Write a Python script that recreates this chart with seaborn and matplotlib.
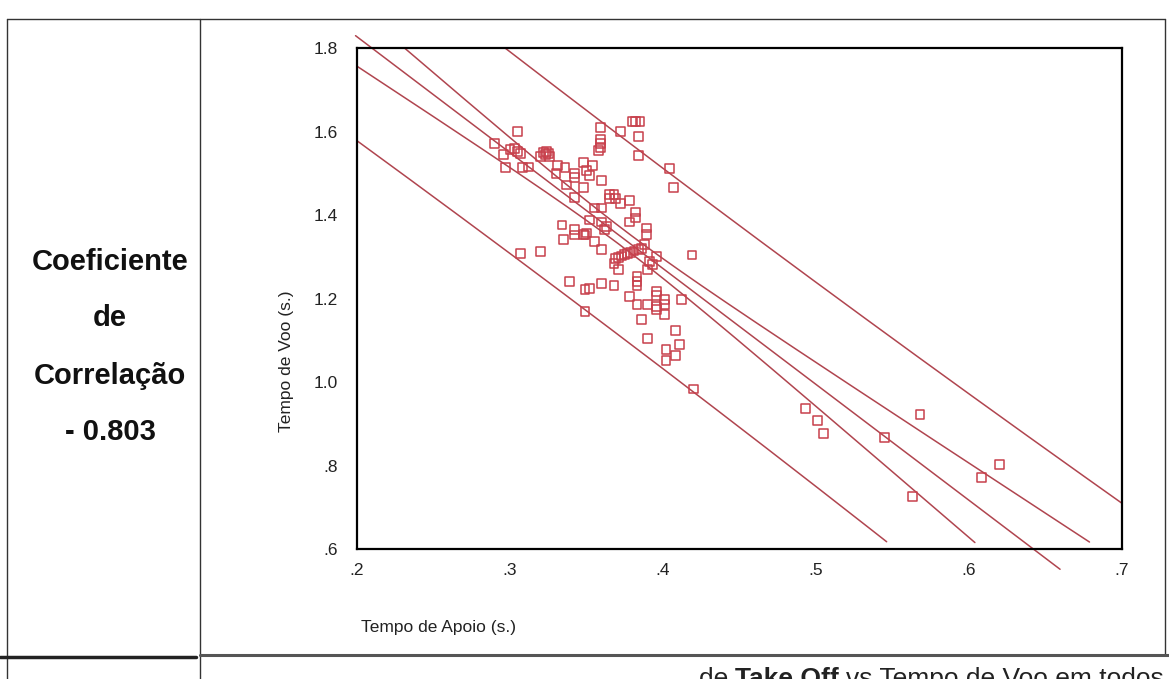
import numpy as np
import pandas as pd
import matplotlib
matplotlib.use("Agg")
import matplotlib.pyplot as plt
from matplotlib.lines import Line2D
import seaborn as sns

# ---------------- data ----------------
apoio = [0.290, 0.305, 0.296, 0.300, 0.303, 0.305, 0.307, 0.297, 0.308, 0.312,
         0.320, 0.322, 0.324, 0.325, 0.326, 0.323, 0.331, 0.336, 0.330, 0.342,
         0.342, 0.348, 0.350, 0.337, 0.348, 0.342, 0.359, 0.372, 0.380, 0.382,
         0.385, 0.384, 0.359, 0.359, 0.359, 0.358, 0.384, 0.404, 0.407, 0.354,
         0.352, 0.360, 0.365, 0.368, 0.365, 0.369, 0.378, 0.372, 0.355, 0.360,
         0.382, 0.382, 0.378, 0.352, 0.360, 0.363, 0.362, 0.389, 0.389, 0.388,
         0.355, 0.360, 0.350, 0.369, 0.371, 0.373, 0.375, 0.377, 0.379, 0.381,
         0.384, 0.386, 0.368, 0.396, 0.391, 0.393, 0.371, 0.390, 0.419, 0.383,
         0.383, 0.383, 0.360, 0.368, 0.352, 0.396, 0.396, 0.378, 0.383, 0.390,
         0.396, 0.401, 0.401, 0.412, 0.396, 0.401, 0.386, 0.408, 0.390, 0.411,
         0.402, 0.408, 0.402, 0.420, 0.349, 0.334, 0.335, 0.342, 0.342, 0.348,
         0.349, 0.307, 0.320, 0.339, 0.349, 0.493, 0.501, 0.505, 0.568, 0.545,
         0.620, 0.608, 0.563]
voo = [1.571, 1.600, 1.545, 1.556, 1.560, 1.552, 1.548, 1.513, 1.513, 1.515,
       1.540, 1.550, 1.552, 1.548, 1.540, 1.545, 1.518, 1.513, 1.499, 1.500,
       1.490, 1.525, 1.506, 1.472, 1.465, 1.441, 1.610, 1.600, 1.624, 1.624,
       1.624, 1.588, 1.580, 1.571, 1.561, 1.554, 1.542, 1.511, 1.465, 1.518,
       1.494, 1.482, 1.450, 1.450, 1.440, 1.440, 1.434, 1.427, 1.417, 1.417,
       1.407, 1.393, 1.383, 1.388, 1.383, 1.373, 1.366, 1.369, 1.354, 1.330,
       1.337, 1.318, 1.357, 1.296, 1.299, 1.302, 1.305, 1.308, 1.311, 1.314,
       1.318, 1.320, 1.284, 1.301, 1.289, 1.282, 1.270, 1.270, 1.304, 1.253,
       1.241, 1.231, 1.236, 1.231, 1.224, 1.217, 1.207, 1.205, 1.186, 1.186,
       1.181, 1.198, 1.186, 1.198, 1.173, 1.161, 1.149, 1.123, 1.104, 1.089,
       1.077, 1.063, 1.051, 0.983, 1.169, 1.376, 1.342, 1.366, 1.352, 1.354,
       1.352, 1.308, 1.313, 1.241, 1.222, 0.937, 0.908, 0.877, 0.923, 0.868,
       0.802, 0.771, 0.725]

x_ticks = [0.2, 0.3, 0.4, 0.5, 0.6, 0.7]
x_tick_labels = [".2", ".3", ".4", ".5", ".6", ".7"]
y_ticks = [0.6, 0.8, 1.0, 1.2, 1.4, 1.6, 1.8]
y_tick_labels = [".6", ".8", "1.0", "1.2", "1.4", "1.6", "1.8"]

x_label = "Tempo de Apoio (s.)"
y_label = "Tempo de Voo (s.)"
side_text = ["Coeficiente", "de", "Correlação", "- 0.803"]
caption_parts = [("de ", "normal"), ("Take Off ", "bold"), ("vs Tempo de Voo em todos", "normal")]

# ---------------- style ----------------
sns.set_theme(style="white")
plt.rcParams["font.family"] = ["Liberation Sans", "DejaVu Sans"]

MARK = "#c8404c"
LINE = "#b0454f"
W, H = 1169, 679

fig = plt.figure(figsize=(W / 100, H / 100), dpi=100)
fig.patch.set_facecolor("white")

ax_l, ax_r, ax_t, ax_b = 357, 1122, 48, 549
ax = fig.add_axes([ax_l / W, 1 - ax_b / H, (ax_r - ax_l) / W, (ax_b - ax_t) / H])

df = pd.DataFrame({"apoio": apoio, "voo": voo})
sns.scatterplot(data=df, x="apoio", y="voo", marker="s", s=40,
                facecolors="none", edgecolor=MARK, linewidth=1.1, ax=ax,
                legend=False, zorder=3)

# ---------------- regression, CI of mean, prediction interval ----------------
xa = np.asarray(apoio)
ya = np.asarray(voo)
n = len(xa)
xm, ym = xa.mean(), ya.mean()
sxx = ((xa - xm) ** 2).sum()
b = ((xa - xm) * (ya - ym)).sum() / sxx
a = ym - b * xm
s = np.sqrt(((ya - (a + b * xa)) ** 2).sum() / (n - 2))
tval = 1.98

xs = np.linspace(0.195, 0.70, 500)
fit = a + b * xs
se_m = s * np.sqrt(1 / n + (xs - xm) ** 2 / sxx)
se_p = s * np.sqrt(1 + 1 / n + (xs - xm) ** 2 / sxx)
# (curve, first x, lower visible bound, upper visible bound)
curves = [(fit, 0.195, 0.55, 1.83),
          (fit + tval * se_m, 0.2, 0.615, 1.80),
          (fit - tval * se_m, 0.2, 0.615, 1.80),
          (fit + tval * se_p, 0.2, 0.615, 1.80),
          (fit - tval * se_p, 0.2, 0.615, 1.80)]
for c, x0, lo, hi in curves:
    cc = np.where((c >= lo) & (c <= hi) & (xs >= x0), c, np.nan)
    ax.plot(xs, cc, color=LINE, lw=1.1, clip_on=False, zorder=2)

ax.set_xlim(0.2, 0.7)
ax.set_ylim(0.6, 1.8)
ax.set_xticks(x_ticks)
ax.set_xticklabels(x_tick_labels)
ax.set_yticks(y_ticks)
ax.set_yticklabels(y_tick_labels)
ax.tick_params(axis="both", direction="in", length=4, width=2.2, color="black",
               labelsize=12.5, labelcolor="#222222")
ax.tick_params(axis="x", pad=10)
ax.tick_params(axis="y", pad=14)
for sp in ax.spines.values():
    sp.set_visible(True)
    sp.set_color("black")
    sp.set_linewidth(1.6)

ax.set_xlabel(x_label, fontsize=12.5, color="#222222", loc="left")
ax.xaxis.set_label_coords(0.005, -0.142)
ax.set_ylabel(y_label, fontsize=12.5, color="#222222")
ax.yaxis.set_label_coords(-0.083, 0.375)

# ---------------- table frame of the scanned page ----------------
def hline(y, x0, x1, lw=1.0, col="#333333"):
    fig.add_artist(Line2D([x0 / W, x1 / W], [1 - y / H, 1 - y / H],
                          transform=fig.transFigure, color=col, lw=lw))

def vline(x, y0, y1, lw=1.0, col="#333333"):
    fig.add_artist(Line2D([x / W, x / W], [1 - y0 / H, 1 - y1 / H],
                          transform=fig.transFigure, color=col, lw=lw))

hline(19, 7, 1165, lw=1.0)
vline(7, 19, 679, lw=1.0)
vline(200, 19, 679, lw=1.0)
vline(1165, 19, 655, lw=1.0)
hline(655, 200, 1169, lw=2.2, col="#555555")
hline(657, 0, 196, lw=2.5, col="#222222")

side_y = [262, 318, 376, 432]
for txt, yy in zip(side_text, side_y):
    fig.text(110 / W, 1 - yy / H, txt, ha="center", va="center",
             fontsize=21, fontweight="bold", color="#111111")

# caption (cut off at the bottom edge like the scanned page)
fig.canvas.draw()
renderer = fig.canvas.get_renderer()
x_right = 1164
for txt, wt in reversed(caption_parts):
    t = fig.text(x_right / W, 1 - 686 / H, txt, ha="right", va="baseline",
                 fontsize=19, fontweight=wt, color="#222222")
    bb = t.get_window_extent(renderer=renderer)
    x_right = bb.x0

fig.savefig("out.png", dpi=100, facecolor="white")
